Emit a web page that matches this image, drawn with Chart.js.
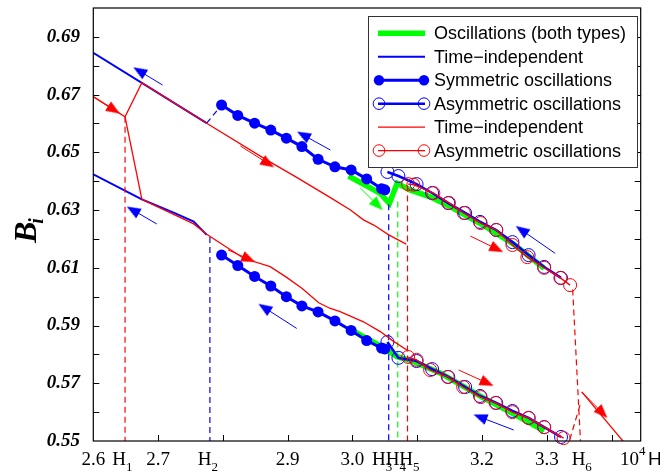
<!DOCTYPE html>
<html>
<head>
<meta charset="utf-8">
<script src="https://cdn.jsdelivr.net/npm/chart.js@4.4.1/dist/chart.umd.min.js"></script>
<style>
  html, body { margin: 0; padding: 0; background: #fff; }
  #wrap { width: 660px; height: 472px; position: relative; }
</style>
</head>
<body>
<div id="wrap"><canvas id="bChart"></canvas></div>
<script>
// values: x in units of 10^4 H, y = B_i

// time-independent branches
const blueTiUpper = [[2.6, 0.6845], [2.775, 0.6601]];
const blueTiLower = [[2.6, 0.6424], [2.675, 0.6337], [2.724, 0.6291], [2.755, 0.6260], [2.775, 0.6214]];
const redTiUpper = [[2.6, 0.6693], [2.649, 0.6623], [2.675, 0.6741], [2.775, 0.6601], [2.868, 0.6473],
  [2.912, 0.6416], [2.966, 0.6343], [2.997, 0.6300], [3.017, 0.6266], [3.033, 0.6248], [3.056, 0.6214], [3.083, 0.6182]];
const redTiDrop = [[2.649, 0.6623], [2.675, 0.6337]];
const redTiLower = [[2.675, 0.6337], [2.724, 0.6285], [2.755, 0.6252], [2.775, 0.6216], [2.832, 0.6133], [2.873, 0.6104],
  [2.899, 0.6066], [2.922, 0.6029], [2.948, 0.5979], [2.965, 0.5960], [2.981, 0.5948], [3.017, 0.5913],
  [3.043, 0.5879], [3.063, 0.5846], [3.084, 0.5815]];
const redTail = [[3.354, 0.5670], [3.425, 0.5480]];

// symmetric oscillations (filled circles)
const symX = [2.798, 2.823, 2.849, 2.874, 2.898, 2.922, 2.947, 2.973, 2.998, 3.022, 3.045, 3.05];
const symUpperY = [0.6664, 0.6628, 0.6601, 0.6577, 0.6549, 0.6520, 0.6476, 0.6450, 0.6439, 0.6408, 0.6374, 0.6370];
const symLowerY = [0.6144, 0.6108, 0.6070, 0.6037, 0.6000, 0.5968, 0.5947, 0.5916, 0.5883, 0.5848, 0.5822, 0.5819];

// asymmetric oscillations (open circles)
const asymBlueX = [3.054, 3.071, 3.099, 3.123, 3.148, 3.174, 3.197, 3.222, 3.247, 3.272, 3.296, 3.322];
const asymBlueUpperY = [0.6432, 0.6418, 0.6390, 0.6359, 0.6324, 0.6290, 0.6259, 0.6231, 0.6189, 0.6144, 0.6103, 0.6065];
const asymBlueLowerY = [0.5843, 0.5788, 0.5777, 0.5749, 0.5722, 0.5687, 0.5656, 0.5632, 0.5604, 0.5580, 0.5548, 0.5514];
const asymRedUpperX = [3.086, 3.094, 3.125, 3.149, 3.172, 3.198, 3.222, 3.247, 3.270, 3.296, 3.321, 3.336];
const asymRedUpperY = [0.6390, 0.6388, 0.6359, 0.6325, 0.6290, 0.6255, 0.6231, 0.6179, 0.6137, 0.6100, 0.6065, 0.6040];
const asymRedLowerX = [3.086, 3.099, 3.120, 3.147, 3.171, 3.198, 3.221, 3.247, 3.272, 3.296, 3.326];
const asymRedLowerY = [0.5791, 0.5781, 0.5746, 0.5722, 0.5687, 0.5652, 0.5632, 0.5600, 0.5580, 0.5548, 0.5510];

// oscillations, both types (thick green)
const greenUpper = [[2.994, 0.6418], [3.043, 0.6358], [3.057, 0.6323], [3.069, 0.6393], [3.089, 0.6370],
  [3.120, 0.6346], [3.151, 0.6312], [3.200, 0.6250], [3.250, 0.6180], [3.296, 0.6098]];
const greenLower = [[2.994, 0.5890], [3.045, 0.5827], [3.069, 0.5792], [3.095, 0.5775], [3.136, 0.5735],
  [3.200, 0.5652], [3.250, 0.5592], [3.296, 0.5535]];

// dashed guides
const blueDashed = [[[2.775, 0.6601], [2.798, 0.6664]], [[2.780, 0.6207], [2.780, 0.55]], [[3.056, 0.6320], [3.056, 0.55]]];
const greenDashed = [[[3.070, 0.6330], [3.070, 0.55]]];
const redDashed = [[[2.649, 0.6623], [2.649, 0.55]], [[3.085, 0.6385], [3.085, 0.55]],
  [[3.340, 0.6025], [3.352, 0.55]], [[3.3355, 0.5505], [3.353, 0.5637]]];

// arrows: tail x, tail y, head x, head y
const blueArrows = [[2.707, 0.6733, 2.671, 0.6782], [2.698, 0.6252, 2.661, 0.6300], [2.966, 0.6508, 2.924, 0.6560],
  [2.914, 0.5890, 2.864, 0.5962], [3.313, 0.6150, 3.261, 0.6231], [3.249, 0.5538, 3.197, 0.5583]];
const redArrows = [[2.600, 0.6692, 2.632, 0.6647], [2.827, 0.6522, 2.870, 0.6461], [2.808, 0.6162, 2.840, 0.6130],
  [3.182, 0.6210, 3.223, 0.6165], [3.164, 0.5746, 3.208, 0.5701], [3.354, 0.5670, 3.386, 0.5597]];
const greenArrows = [[3.012, 0.6377, 3.039, 0.6317]];

// axes
const yTickMarks = [0.56, 0.57, 0.58, 0.59, 0.60, 0.61, 0.62, 0.63, 0.64, 0.65, 0.66, 0.67, 0.68, 0.69];
const yTickLabels = [0.55, 0.57, 0.59, 0.61, 0.63, 0.65, 0.67, 0.69];
const xTickMarks = [2.7, 2.8, 2.9, 3.0, 3.1, 3.2, 3.3, 3.4];
const xTickLabels = [2.6, 2.7, 2.9, 3.0, 3.2, 3.3];
const hLabels = [['1', 2.640], ['2', 2.772], ['3', 3.041], ['4', 3.062], ['5', 3.083], ['6', 3.349]];

const legendItems = ['Oscillations (both types)', 'Time\u2212independent', 'Symmetric oscillations',
  'Asymmetric oscillations', 'Time\u2212independent', 'Asymmetric oscillations'];

const BLUE = '#0000ff';
const RED = '#ff0000';
const GREEN = '#00ff00';

function pts(arr) {
  return arr.map(p => ({ x: p[0], y: p[1] }));
}
function zip(xs, ys) {
  return xs.map((x, i) => ({ x: x, y: ys[i] }));
}

// small canvas with an arrowhead pointing up, used as point style
function headImage(color) {
  const c = document.createElement('canvas');
  c.width = 14; c.height = 14;
  const g = c.getContext('2d');
  g.fillStyle = color;
  g.beginPath();
  g.moveTo(7, 0);
  g.lineTo(12.5, 14);
  g.lineTo(1.5, 14);
  g.closePath();
  g.fill();
  return c;
}

function lineSet(data, color, width, order, extra) {
  return Object.assign({
    data: data,
    showLine: true,
    borderColor: color,
    borderWidth: width,
    pointRadius: 0,
    tension: 0,
    order: order
  }, extra || {});
}

function arrowSet(a, color, order, head) {
  return {
    data: [{ x: a[0], y: a[1] }, { x: a[2], y: a[3] }],
    showLine: true,
    borderColor: color,
    borderWidth: 1,
    pointRadius: [0, 7],
    pointStyle: [false, head],
    order: order,
    clip: false,
    pointRotation: function(c) {
      const d = c.dataset.data;
      const xs = c.chart.scales.x, ys = c.chart.scales.y;
      const dx = xs.getPixelForValue(d[1].x) - xs.getPixelForValue(d[0].x);
      const dy = ys.getPixelForValue(d[1].y) - ys.getPixelForValue(d[0].y);
      return Math.atan2(dy, dx) * 180 / Math.PI + 90;
    }
  };
}

const decorPlugin = {
  id: 'decor',
  afterDraw(chart) {
    const ctx = chart.ctx;
    const a = chart.chartArea;
    const xs = chart.scales.x, ys = chart.scales.y;
    ctx.save();
    ctx.strokeStyle = '#000';
    ctx.fillStyle = '#000';
    ctx.lineWidth = 1.2;
    ctx.strokeRect(a.left, a.top, a.right - a.left, a.bottom - a.top);

    // tick marks pointing in
    ctx.lineWidth = 1;
    ctx.beginPath();
    yTickMarks.forEach(v => {
      const y = Math.round(ys.getPixelForValue(v)) + 0.5;
      ctx.moveTo(a.left, y); ctx.lineTo(a.left + 6, y);
      ctx.moveTo(a.right, y); ctx.lineTo(a.right - 6, y);
    });
    xTickMarks.forEach(v => {
      const x = Math.round(xs.getPixelForValue(v)) + 0.5;
      ctx.moveTo(x, a.bottom); ctx.lineTo(x, a.bottom - 6);
    });
    ctx.stroke();

    // y labels
    ctx.font = 'italic bold 19px "Liberation Serif"';
    ctx.textAlign = 'right';
    ctx.textBaseline = 'middle';
    yTickLabels.forEach(v => ctx.fillText(v.toFixed(2), 80, ys.getPixelForValue(v)));

    // x labels
    ctx.font = '19px "Liberation Serif"';
    ctx.textAlign = 'center';
    ctx.textBaseline = 'alphabetic';
    xTickLabels.forEach(v => ctx.fillText(v.toFixed(1), xs.getPixelForValue(v), 465));
    ctx.textAlign = 'left';
    hLabels.forEach(h => {
      const x = xs.getPixelForValue(h[1]);
      ctx.font = '19px "Liberation Serif"';
      const w = ctx.measureText('H').width;
      ctx.fillText('H', x - w / 2, 465);
      ctx.font = '13px "Liberation Serif"';
      ctx.fillText(h[0], x + w / 2, 471);
    });
    ctx.font = '19px "Liberation Serif"';
    ctx.fillText('10', 620, 465);
    ctx.font = '13px "Liberation Serif"';
    ctx.fillText('4', 639, 455);
    ctx.font = '19px "Liberation Sans"';
    ctx.fillText('H', 648, 465);

    // y title
    ctx.save();
    ctx.translate(36, 243);
    ctx.rotate(-Math.PI / 2);
    ctx.font = 'italic bold 32px "Liberation Serif"';
    ctx.fillText('B', 0, 0);
    const bw = ctx.measureText('B').width;
    ctx.font = 'italic bold 20px "Liberation Serif"';
    ctx.fillText('i', bw - 2, 7);
    ctx.restore();

    // legend
    const lx = 368, ly = 16, lw = 269, lh = 151;
    ctx.fillStyle = '#fff';
    ctx.fillRect(lx, ly, lw, lh);
    ctx.strokeStyle = '#333';
    ctx.lineWidth = 1;
    ctx.strokeRect(lx + 0.5, ly + 0.5, lw, lh);
    const styles = [
      { c: GREEN, w: 5.5 }, { c: BLUE, w: 2 }, { c: BLUE, w: 3, m: 'filled' },
      { c: BLUE, w: 2.5, m: 'open' }, { c: RED, w: 1.3 }, { c: RED, w: 1.3, m: 'open' }
    ];
    legendItems.forEach((t, i) => {
      const y = 33.3 + i * 23.45;
      const s = styles[i];
      ctx.strokeStyle = s.c;
      ctx.lineWidth = s.w;
      ctx.beginPath();
      ctx.moveTo(378, y); ctx.lineTo(425, y);
      ctx.stroke();
      if (s.m) {
        [379, 424].forEach(cx => {
          ctx.beginPath();
          ctx.arc(cx, y, s.m === 'filled' ? 5.2 : 5.8, 0, Math.PI * 2);
          if (s.m === 'filled') { ctx.fillStyle = s.c; ctx.fill(); }
          else { ctx.lineWidth = 1; ctx.stroke(); }
        });
      }
      ctx.fillStyle = '#000';
      ctx.font = '18px "Liberation Sans"';
      ctx.textAlign = 'left';
      ctx.textBaseline = 'middle';
      ctx.fillText(t, 434, y + 1);
    });
    ctx.restore();
  }
};

document.addEventListener('DOMContentLoaded', function() {
  try {
    const redHead = headImage(RED), blueHead = headImage(BLUE), greenHead = headImage(GREEN);
    const sets = [];
    // red on top (order 1), blue (2), green at the back (3)
    sets.push(lineSet(pts(redTiUpper), RED, 1.3, 1));
    sets.push(lineSet(pts(redTiDrop), RED, 1.3, 1));
    sets.push(lineSet(pts(redTiLower), RED, 1.3, 1));
    sets.push(lineSet(pts(redTail), RED, 1.3, 1, { clip: 0 }));
    const openRed = { pointRadius: 6.5, pointBorderColor: RED, pointBackgroundColor: 'rgba(0,0,0,0)', pointBorderWidth: 1, clip: false };
    sets.push(lineSet(zip(asymRedUpperX, asymRedUpperY), RED, 1.3, 1, openRed));
    sets.push(lineSet(zip(asymRedLowerX, asymRedLowerY), RED, 1.3, 1, openRed));
    redDashed.forEach(d => sets.push(lineSet(pts(d), RED, 1.2, 1, { borderDash: [6, 4] })));
    redArrows.forEach(a => sets.push(arrowSet(a, RED, 1, redHead)));

    sets.push(lineSet(pts(blueTiUpper), BLUE, 2, 2));
    sets.push(lineSet(pts(blueTiLower), BLUE, 2, 2));
    const filledBlue = { pointRadius: 5.5, pointBorderColor: BLUE, pointBackgroundColor: BLUE, pointBorderWidth: 0, clip: false };
    sets.push(lineSet(zip(symX, symUpperY), BLUE, 3, 2, filledBlue));
    sets.push(lineSet(zip(symX, symLowerY), BLUE, 3, 2, filledBlue));
    const openBlue = { pointRadius: 6.5, pointBorderColor: BLUE, pointBackgroundColor: 'rgba(0,0,0,0)', pointBorderWidth: 1, clip: false };
    sets.push(lineSet(zip(asymBlueX, asymBlueUpperY), BLUE, 2.5, 2, openBlue));
    sets.push(lineSet(zip(asymBlueX, asymBlueLowerY), BLUE, 2.5, 2, openBlue));
    blueDashed.forEach(d => sets.push(lineSet(pts(d), BLUE, 1.2, 2, { borderDash: [6, 4] })));
    blueArrows.forEach(a => sets.push(arrowSet(a, BLUE, 2, blueHead)));

    sets.push(lineSet(pts(greenUpper), GREEN, 5.5, 3));
    sets.push(lineSet(pts(greenLower), GREEN, 5.5, 3));
    greenDashed.forEach(d => sets.push(lineSet(pts(d), GREEN, 1.2, 3, { borderDash: [6, 4] })));
    greenArrows.forEach(a => sets.push(arrowSet(a, GREEN, 3, greenHead)));

    new Chart(document.getElementById('bChart'), {
      type: 'scatter',
      data: { datasets: sets },
      options: {
        animation: false,
        responsive: true,
        maintainAspectRatio: false,
        layout: { padding: { top: 8, right: 19.3, left: 0, bottom: 0 } },
        plugins: { legend: { display: false }, tooltip: { enabled: false } },
        scales: {
          x: {
            type: 'linear', min: 2.6, max: 3.445,
            ticks: { display: false }, grid: { display: false }, border: { display: false },
            afterFit: s => { s.height = 31; }
          },
          y: {
            type: 'linear', min: 0.55, max: 0.70,
            ticks: { display: false }, grid: { display: false }, border: { display: false },
            afterFit: s => { s.width = 93.3; }
          }
        }
      },
      plugins: [decorPlugin]
    });
  } catch (error) {
    console.error('chart error:', error);
  }
});
</script>
</body>
</html>
